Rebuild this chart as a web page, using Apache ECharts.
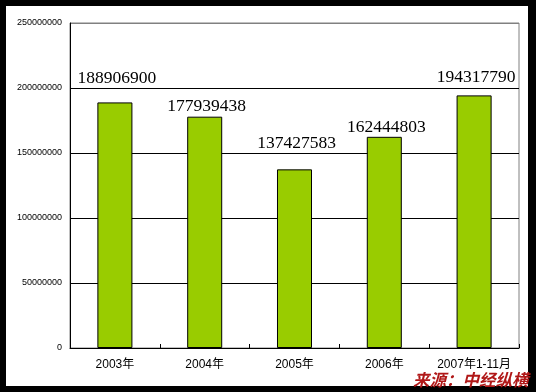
<!DOCTYPE html>
<html><head><meta charset="utf-8">
<script src="https://cdn.jsdelivr.net/npm/echarts@6/dist/echarts.min.js"></script>
<style>html,body{margin:0;padding:0;background:#000}#c{width:536px;height:392px}</style>
</head><body><div id="c"></div>
<script>
const categories = ['2003年', '2004年', '2005年', '2006年', '2007年1-11月'];
const values = [188906900, 177939438, 137427583, 162444803, 194317790];
const yTicks = [0, 50000000, 100000000, 150000000, 200000000, 250000000];
const sourceText = '来源：中经纵横';
// per-bar label gap above bar (styling only)
const labelGap = [15, 1, 17, 0, 9];

const chart = echarts.init(document.getElementById('c'), null, {renderer: 'canvas'});
chart.setOption({
  backgroundColor: '#000',
  animation: false,
  graphic: [
    {type: 'rect', z: -10, shape: {x: 6, y: 6, width: 522, height: 380}, style: {fill: '#fff'}},
    {type: 'text', z: 100, left: 413, top: 371,
     style: {text: sourceText, fill: '#b01818', font: 'italic bold 16.5px "Noto Sans CJK SC", sans-serif',
             shadowColor: 'rgba(255,255,255,0.6)', shadowBlur: 0, shadowOffsetX: 1, shadowOffsetY: 1}}
  ],
  grid: {left: 70, top: 23, right: 17, bottom: 44, show: true, borderColor: '#808080', borderWidth: 1, backgroundColor: 'transparent'},
  xAxis: {
    type: 'category', data: categories,
    axisLine: {lineStyle: {color: '#000', width: 1}},
    axisTick: {show: true, inside: true, length: 4, alignWithLabel: false, lineStyle: {color: '#000'}},
    axisLabel: {color: '#000', fontSize: 12, margin: 11, fontFamily: '"Liberation Sans", "Noto Sans CJK SC", sans-serif', interval: 0}
  },
  yAxis: {
    type: 'value', min: yTicks[0], max: yTicks[yTicks.length - 1], interval: yTicks[1] - yTicks[0],
    axisLine: {show: true, lineStyle: {color: '#000', width: 1}},
    axisTick: {show: false},
    axisLabel: {color: '#000', fontSize: 9, margin: 8, fontFamily: '"Liberation Sans", sans-serif',
                formatter: v => String(v)},
    splitLine: {show: true, lineStyle: {color: ['#000', '#000', '#000', '#000', '#000', '#808080'], width: 1}}
  },
  series: [{
    type: 'bar',
    barWidth: '39%',
    data: values.map((v, i) => ({
      value: v,
      label: {distance: labelGap[i]}
    })),
    itemStyle: {color: '#99cc00', borderColor: '#000', borderWidth: 1},
    label: {
      show: true, position: 'top', color: '#000', fontSize: 17.5,
      fontFamily: '"Liberation Serif", serif', offset: [2, 0]
    }
  }]
});
</script></body></html>
